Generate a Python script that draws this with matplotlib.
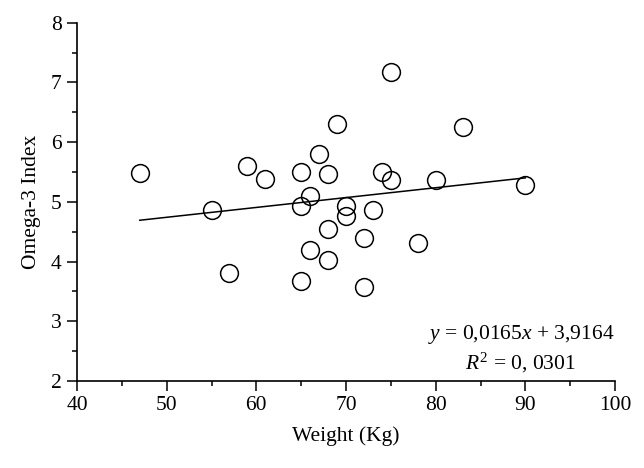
import matplotlib
matplotlib.use("Agg")
import matplotlib.pyplot as plt
from matplotlib.ticker import MultipleLocator

# Data
weight = [47, 55, 57, 59, 61, 65, 65, 65, 66, 66, 67, 68, 68, 68, 69,
          70, 70, 72, 72, 73, 74, 75, 75, 78, 80, 83, 90]
omega3 = [5.49, 4.87, 3.81, 5.60, 5.39, 5.50, 4.93, 3.67, 5.10, 4.19, 5.80,
          5.47, 4.55, 4.03, 6.31, 4.93, 4.76, 4.39, 3.57, 4.86, 5.50, 7.18,
          5.37, 4.31, 5.37, 6.26, 5.29]

slope = 0.0165
intercept = 3.9164
fit_x = [min(weight), max(weight)]
fit_y = [slope * v + intercept for v in fit_x]

x_ticks = [40, 50, 60, 70, 80, 90, 100]
y_ticks = [2, 3, 4, 5, 6, 7, 8]

plt.rcParams['font.family'] = ['Liberation Serif', 'DejaVu Serif']
plt.rcParams['mathtext.fontset'] = 'custom'
plt.rcParams['mathtext.rm'] = 'Liberation Serif'
plt.rcParams['mathtext.it'] = 'Liberation Serif:italic'

FS = 15.5

fig = plt.figure(figsize=(6.44, 4.68), dpi=100)
ax = fig.add_axes([77/644, 1 - 381/468, (615-77)/644, (381-22.7)/468])

ax.plot(fit_x, fit_y, color='black', lw=1.1, zorder=2)
ax.plot(weight, omega3, linestyle='none', marker='o', markersize=12.8,
        markerfacecolor='none', markeredgecolor='black', markeredgewidth=1.1,
        zorder=3)

ax.set_xlim(40, 100)
ax.set_ylim(2, 8)
ax.set_xticks(x_ticks)
ax.set_yticks(y_ticks)
ax.xaxis.set_minor_locator(MultipleLocator(5))
ax.yaxis.set_minor_locator(MultipleLocator(0.5))

for s in ['top', 'right']:
    ax.spines[s].set_visible(False)
for s in ['left', 'bottom']:
    ax.spines[s].set_linewidth(1.2)

ax.tick_params(axis='both', which='major', direction='out', length=7, width=1.1,
               labelsize=FS, pad=4)
ax.tick_params(axis='both', which='minor', direction='out', length=3.5, width=1.1)

ax.set_xlabel('Weight (Kg)', fontsize=FS, labelpad=8)
ax.set_ylabel('Omega-3 Index', fontsize=FS, labelpad=7)

ax.text(1.0, 1 - (334 - 22.7) / (381 - 22.7),
        r'$y$ = 0,0165$x$ + 3,9164', transform=ax.transAxes,
        ha='right', va='center', fontsize=FS)
ax.text(520/644, 1 - 363/468, r'$R^2$ = 0, 0301', transform=fig.transFigure,
        ha='center', va='center', fontsize=FS)

fig.savefig('out.png', dpi=100)
